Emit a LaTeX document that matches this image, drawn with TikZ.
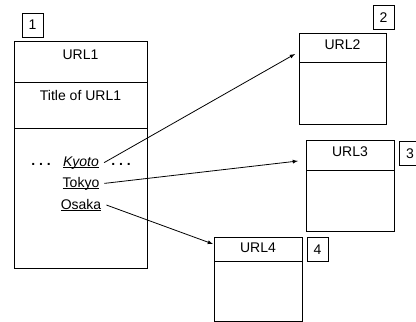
\documentclass[tikz,border=0pt]{standalone}
\usepackage{fontspec}
\setmainfont{Liberation Sans}
\newcommand{\ulword}[1]{\setbox0\hbox{#1}\rlap{\rule[-2.2pt]{\wd0}{0.9pt}}\box0}
\tikzset{
  page/.style={draw, line width=1pt, anchor=north west, inner sep=0pt},
  rule/.style={line width=1pt},
  tag/.style={draw, line width=0.8pt, minimum width=21pt, minimum height=24pt, inner sep=0pt},
  word/.style={anchor=base, inner sep=5pt},
  link/.style={line width=0.8pt, -latex}
}

\begin{document}
\begin{tikzpicture}[x=1pt, y=-1pt, font=\fontsize{14}{17}\selectfont]
  \useasboundingbox (0, 0) rectangle (416, 322);
	%URL1 page
	\node [page, minimum width=133pt, minimum height=227pt] (page1) at (14, 41) {};
	\draw [rule] (14, 82) -- (147, 82);
	\draw [rule] (14, 128) -- (147, 128);
	\node [tag] (tag1) at (32.5, 25) {1};
	\node [word] (url1) at (80.5, 59) {URL1};
	\node [word] (title1) at (80.5, 100) {Title of URL1};
	%Links in URL1
	\node [word] (dotsl) at (41, 165) {\textbf{.\ .\ .}};
	\node [word] (kyoto) at (81, 166) {\ulword{\textit{Kyoto}}};
	\node [word] (dotsr) at (121, 165) {\textbf{.\ .\ .}};
	\node [word] (tokyo) at (81, 187) {\ulword{Tokyo}};
	\node [word] (osaka) at (81, 209) {\ulword{Osaka}};
	%URL2 page
	\node [page, minimum width=87pt, minimum height=91pt] (page2) at (299, 33) {};
	\draw [rule] (299, 62) -- (386, 62);
	\node [tag] (tag2) at (383.5, 17.5) {2};
	\node [word] (url2) at (342.5, 49) {URL2};
	%URL3 page
	\node [page, minimum width=88pt, minimum height=91pt] (page3) at (306, 140) {};
	\draw [rule] (306, 170) -- (394, 170);
	\node [tag] (tag3) at (410, 153.5) {3};
	\node [word] (url3) at (350, 156) {URL3};
	%URL4 page
	\node [page, minimum width=88pt, minimum height=84pt] (page4) at (214, 237) {};
	\draw [rule] (214, 261) -- (302, 261);
	\node [tag] (tag4) at (317.5, 249.5) {4};
	\node [word] (url4) at (258, 252) {URL4};
	%Arrows
	\coordinate (tip2) at (295, 54);
	\coordinate (tip3) at (298, 161);
	\coordinate (tip4) at (213, 244);
	\draw [link] (kyoto.east) -- (tip2);
	\draw [link] (tokyo.east) -- (tip3);
	\draw [link] (osaka.east) -- (tip4);
\end{tikzpicture}
\end{document}
